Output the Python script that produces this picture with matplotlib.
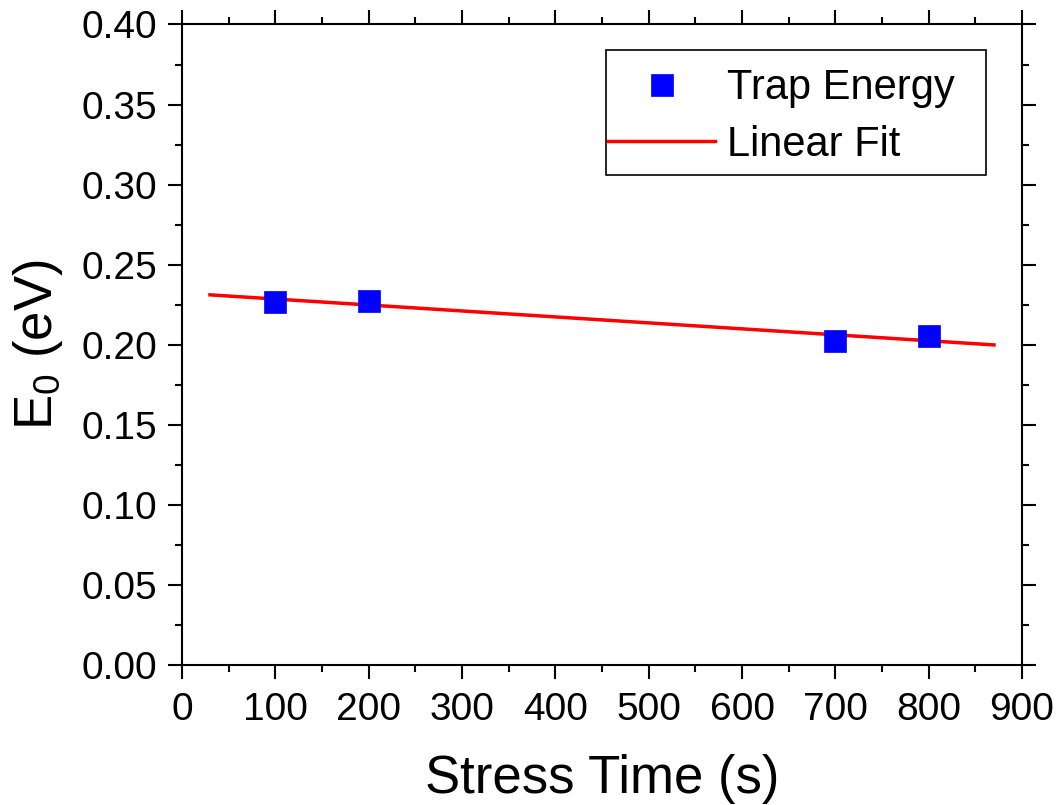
import numpy as np
import matplotlib
matplotlib.use("Agg")
import matplotlib.pyplot as plt
from matplotlib.ticker import MultipleLocator
from matplotlib.patches import Rectangle

plt.rcParams['font.family'] = ['Liberation Sans', 'DejaVu Sans']
plt.rcParams['mathtext.fontset'] = 'custom'
plt.rcParams['mathtext.rm'] = 'Liberation Sans'
plt.rcParams['mathtext.it'] = 'Liberation Sans:italic'

# Trap energy vs. stress time
stress_time = [100, 200, 700, 800]
trap_energy = [0.2268, 0.2275, 0.2025, 0.2053]
fit_range = [30, 870]

slope, intercept = np.polyfit(stress_time, trap_energy, 1)
fit_x = np.array(fit_range)
fit_y = slope * fit_x + intercept

W, H = 1060, 805
fig = plt.figure(figsize=(W / 100, H / 100), dpi=100)
ax = fig.add_axes([182 / W, 1 - 665 / H, 840 / W, 640.5 / H])

ax.plot(fit_x, fit_y, color='red', lw=2.5, label='Linear Fit', zorder=2)
ax.plot(stress_time, trap_energy, 's', color='blue', ms=15.5, mec='blue',
        mew=0.5, ls='none', label='Trap Energy', zorder=3)

ax.set_xlim(0, 900)
ax.set_ylim(0, 0.40)
ax.xaxis.set_major_locator(MultipleLocator(100))
ax.xaxis.set_minor_locator(MultipleLocator(50))
ax.yaxis.set_major_locator(MultipleLocator(0.05))
ax.yaxis.set_minor_locator(MultipleLocator(0.025))
ax.yaxis.set_major_formatter(plt.FormatStrFormatter('%.2f'))

for s in ax.spines.values():
    s.set_linewidth(1.5)
ax.tick_params(which='both', direction='out', top=True, right=True,
               width=1.5, labelsize=28)
ax.tick_params(which='major', length=10)
ax.tick_params(which='minor', length=5)
ax.tick_params(axis='x', which='major', pad=9.5)
ax.tick_params(axis='y', which='major', pad=8)

ax.set_xlabel('Stress Time (s)', fontsize=38, labelpad=19)
ax.set_ylabel('E$_0$ (eV)', fontsize=38, labelpad=12)

# legend without its own frame, boxed by a separate rectangle
handles, labels = ax.get_legend_handles_labels()
leg = fig.legend(handles[::-1], labels[::-1], loc='center left',
                 bbox_to_anchor=(608 / W, 1 - 116.5 / H), fontsize=30,
                 frameon=False, handlelength=2.57, handletextpad=0.29,
                 borderpad=0, labelspacing=0.40, borderaxespad=0)
fig.patches.append(Rectangle((606 / W, 1 - 175 / H), 380 / W, 125 / H,
                             transform=fig.transFigure, fill=False,
                             edgecolor='black', lw=1.2, zorder=5))

fig.savefig('out.png', dpi=100, facecolor='white')
